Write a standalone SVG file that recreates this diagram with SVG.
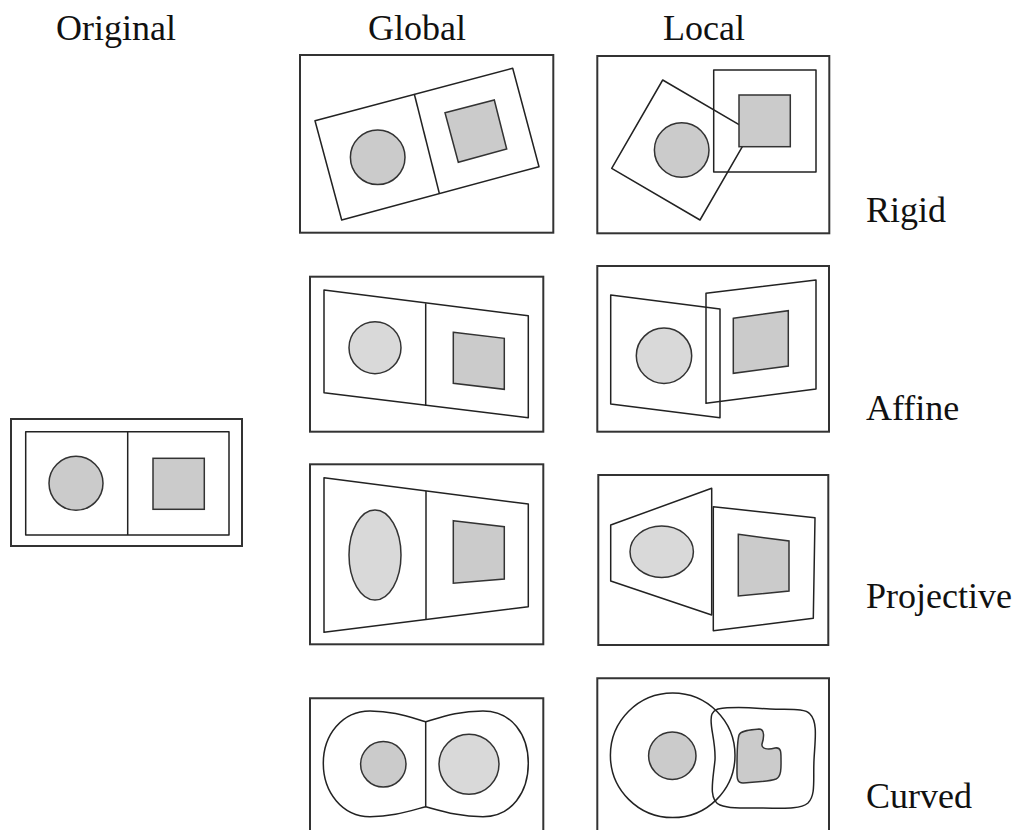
<svg xmlns="http://www.w3.org/2000/svg" width="1028" height="830" viewBox="0 0 1028 830">
<style>
text{font-family:"Liberation Serif","Times New Roman",serif;font-size:36px;fill:#111}
.frame{fill:none;stroke:#333;stroke-width:2}
.ln{fill:none;stroke:#222;stroke-width:1.5;stroke-linejoin:round}
.g1{fill:#cbcbcb;stroke:#333;stroke-width:1.5}
.g2{fill:#d9d9d9;stroke:#333;stroke-width:1.5}
</style>
<rect width="1028" height="830" fill="#fff"/>
<g id="labels">
<text x="56" y="40">Original</text>
<text x="368" y="40">Global</text>
<text x="663" y="40">Local</text>
<text x="866" y="222">Rigid</text>
<text x="866" y="420">Affine</text>
<text x="866" y="608">Projective</text>
<text x="866" y="808">Curved</text>
</g>
<g id="original">
<rect class="frame" x="11" y="419" width="231" height="127"/>
<rect class="ln" x="25.7" y="431.7" width="203.3" height="103.3"/>
<line class="ln" x1="127.7" y1="431.7" x2="127.7" y2="535"/>
<circle class="g1" cx="76" cy="483.3" r="27"/>
<rect class="g1" x="153" y="458.3" width="51.3" height="51"/>
</g>
<g id="global-rigid">
<rect class="frame" x="300" y="55" width="253.3" height="177.7"/>
<polygon class="ln" points="315,120.7 512.7,68.3 539,166.7 341.7,220"/>
<line class="ln" x1="414.3" y1="94" x2="439.3" y2="193.3"/>
<circle class="g1" cx="377.7" cy="157.3" r="27.3"/>
<polygon class="g1" points="445,112.7 494.3,100 506.7,149 458.3,162.3"/>
</g>
<g id="local-rigid">
<rect class="frame" x="597.3" y="56" width="232" height="177.3"/>
<rect class="ln" x="713.7" y="70" width="102.3" height="102"/>
<polygon class="ln" points="662.7,80 751,131.7 700,220 611.7,168.3"/>
<circle class="g1" cx="681.7" cy="150" r="27.3"/>
<rect class="g1" x="739" y="95" width="51.3" height="51.7"/>
</g>
<g id="global-affine">
<rect class="frame" x="310" y="276.7" width="233.3" height="155"/>
<polygon class="ln" points="324,290 528.3,315.7 528.3,417.7 324,392.7"/>
<line class="ln" x1="425.7" y1="303.3" x2="425.7" y2="406"/>
<circle class="g2" cx="375" cy="347.7" r="26"/>
<polygon class="g1" points="453.3,332.3 504.3,338.3 504.3,389.3 453.3,383.3"/>
</g>
<g id="local-affine">
<rect class="frame" x="597.3" y="266" width="231.7" height="165.7"/>
<polygon class="ln" points="610.7,295 720,309 720,417.7 610.7,404"/>
<polygon class="ln" points="706,293.3 816,280 816,389 706,403.3"/>
<circle class="g2" cx="664" cy="355.7" r="27.7"/>
<polygon class="g1" points="733.3,318.3 788.3,310.7 788.3,366 733.3,373.3"/>
</g>
<g id="global-projective">
<rect class="frame" x="310" y="464.3" width="233.3" height="180"/>
<polygon class="ln" points="324,477.7 528.3,504 528.3,606.7 324,632.3"/>
<line class="ln" x1="426" y1="491" x2="426" y2="619"/>
<ellipse class="g2" cx="375" cy="555" rx="26" ry="45"/>
<polygon class="g1" points="453.3,520.7 504.3,526.7 504.3,579 453.3,583.3"/>
</g>
<g id="local-projective">
<rect class="frame" x="598.3" y="475" width="230" height="170"/>
<polygon class="ln" points="610.7,525 711.7,488.3 711.7,615 610.7,581"/>
<polygon class="ln" points="713.3,506.7 815,517.7 813.3,618.3 713.3,630.7"/>
<ellipse class="g2" cx="661.7" cy="551.7" rx="31.7" ry="25.7"/>
<polygon class="g1" points="738.3,534.3 789,541 789,591 738.3,596"/>
</g>
<g id="global-curved">
<path class="frame" d="M310,831 V698.3 H543.3 V831"/>
<path class="ln" d="M425.7,721.7 C445,716 460,711 483,711 C512,711 528.3,735 528.3,763.3 C528.3,792 512,816.7 483,816.7 C460,816.7 445,812 425.7,806.7 C406,812 392,816.7 370,816.7 C342,816.7 323.3,792 323.3,763.3 C323.3,735 342,711 370,711 C392,711 406,716 425.7,721.7 Z"/>
<line class="ln" x1="425.7" y1="721.7" x2="425.7" y2="806.7"/>
<circle class="g1" cx="383.3" cy="764.3" r="22.7"/>
<circle class="g2" cx="469" cy="764.3" r="30"/>
</g>
<g id="local-curved">
<path class="frame" d="M597.3,831 V678.3 H829 V831"/>
<circle class="ln" cx="672.7" cy="755.3" r="62.3"/>
<path class="ln" d="M718,709 C735,706 752,708 770,709 C788,710 805,708 810,714 C818,722 815,740 814,760 C813,780 816,795 808,803 C800,810 780,808 763,808 C745,808 730,809 720,805 C708,800 713,780 715,760 C716,740 708,722 712,714 C714,710 716,710 718,709 Z"/>
<circle class="g1" cx="672.3" cy="755.7" r="23.7"/>
<path class="g1" d="M739,735 C741,730 752,730 759,729 C765,729 764,738 762,744 C761,749 768,750 775,748 C781,747 781,752 781,758 C781,766 782,776 776,779 C768,782 752,782 743,783 C736,783 737,776 737,766 C737,756 737,742 739,735 Z"/>
</g>
</svg>
